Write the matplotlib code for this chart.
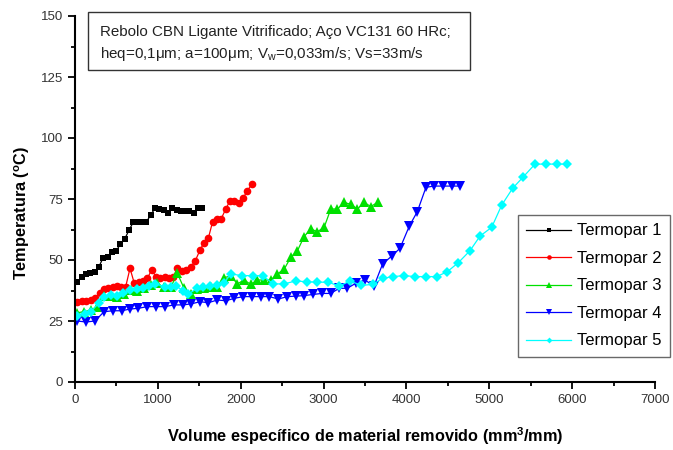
import matplotlib
matplotlib.use("Agg")
import matplotlib.pyplot as plt
from matplotlib.patches import Rectangle
from matplotlib.ticker import MultipleLocator

plt.rcParams['font.family'] = ['Liberation Sans', 'DejaVu Sans']
plt.rcParams['mathtext.fontset'] = 'custom'
plt.rcParams['mathtext.rm'] = 'Liberation Sans'
plt.rcParams['mathtext.it'] = 'Liberation Sans:italic'
plt.rcParams['mathtext.bf'] = 'Liberation Sans:bold'

labels = ["Termopar 1", "Termopar 2", "Termopar 3", "Termopar 4", "Termopar 5"]

t1_x = [28, 80, 132, 185, 237, 289, 341, 393, 445, 497, 549, 601, 653, 705, 757, 809, 861,
        913, 965, 1017, 1069, 1121, 1173, 1225, 1277, 1329, 1381, 1433, 1485, 1537]
t1_y = [41.1, 42.9, 44.3, 44.5, 45.0, 47.3, 51.0, 51.4, 53.3, 53.7, 56.6, 58.7, 62.3, 65.6,
        65.6, 65.6, 65.6, 68.4, 71.2, 70.7, 70.5, 69.4, 71.2, 70.5, 70.2, 70.2, 70.2, 69.4,
        71.2, 71.5]

t2_x = [20, 80, 133, 189, 245, 298, 350, 402, 455, 503, 559, 612, 664, 716, 768, 821, 873,
        925, 978, 1026, 1082, 1134, 1187, 1235, 1291, 1344, 1396, 1452, 1509, 1557, 1609,
        1661, 1714, 1766, 1818, 1871, 1923, 1975, 2028, 2080, 2136]
t2_y = [32.9, 33.3, 33.3, 33.6, 34.3, 36.3, 38.0, 38.4, 38.8, 39.5, 39.1, 39.1, 46.6, 40.4,
        40.8, 41.4, 42.5, 45.9, 43.2, 42.5, 43.2, 42.8, 43.2, 46.6, 45.6, 45.9, 47.0, 49.7,
        54.1, 57.1, 58.9, 65.7, 66.6, 67.0, 70.8, 74.3, 74.3, 73.2, 75.3, 78.4, 81.1]

t3_x = [28, 108, 189, 270, 350, 431, 511, 592, 672, 753, 833, 914, 994, 1075, 1155, 1236,
        1316, 1397, 1477, 1558, 1638, 1719, 1799, 1880, 1960, 2041, 2121, 2202, 2282, 2363,
        2443, 2524, 2604, 2685, 2765, 2846, 2926, 3007, 3087, 3168, 3248, 3329, 3409, 3490,
        3570, 3651]
t3_y = [28.4, 28.8, 29.5, 30.9, 35.2, 35.2, 35.0, 36.1, 37.7, 37.4, 38.4, 39.8, 40.4, 38.8,
        38.8, 44.5, 38.4, 36.1, 38.0, 38.4, 38.8, 38.8, 42.8, 43.4, 40.2, 41.8, 40.0, 41.8,
        41.8, 41.8, 44.3, 46.2, 51.1, 53.8, 59.6, 62.7, 61.6, 63.4, 70.9, 70.9, 73.6, 72.8,
        70.9, 73.6, 71.9, 73.6]

t4_x = [25, 133, 241, 350, 455, 563, 664, 764, 873, 978, 1086, 1195, 1300, 1400, 1509, 1609,
        1718, 1822, 1923, 2032, 2132, 2241, 2345, 2454, 2563, 2667, 2764, 2876, 2981, 3085,
        3190, 3286, 3391, 3500, 3608, 3713, 3822, 3922, 4035, 4131, 4236, 4333, 4445, 4546,
        4646]
t4_y = [25.0, 24.6, 25.0, 28.8, 29.2, 29.2, 29.9, 30.2, 30.9, 30.9, 30.9, 31.6, 31.6, 32.0,
        32.9, 32.5, 33.6, 33.3, 34.3, 35.0, 35.0, 35.0, 35.0, 34.0, 35.0, 35.2, 35.4, 35.9,
        36.3, 36.3, 38.4, 38.4, 40.5, 41.8, 39.3, 48.4, 51.6, 54.8, 63.9, 69.8, 79.8, 80.3,
        80.3, 80.3, 80.3]

t5_x = [20, 121, 189, 294, 350, 431, 511, 583, 664, 744, 817, 897, 966, 1086, 1155, 1219,
        1307, 1368, 1476, 1549, 1629, 1710, 1798, 1879, 2012, 2144, 2265, 2393, 2522, 2663,
        2796, 2924, 3057, 3190, 3319, 3456, 3593, 3713, 3842, 3971, 4104, 4236, 4365, 4493,
        4626, 4767, 4888, 5029, 5150, 5282, 5411, 5552, 5685, 5814, 5942]
t5_y = [27.0, 27.9, 28.8, 32.5, 35.0, 35.7, 35.2, 36.3, 37.7, 38.0, 38.4, 39.3, 40.2, 39.1,
        38.8, 39.3, 37.4, 36.1, 38.4, 38.8, 39.3, 39.8, 40.4, 44.3, 43.6, 43.6, 43.6, 40.2,
        40.2, 41.4, 41.1, 40.9, 40.9, 39.3, 41.4, 39.6, 40.0, 42.5, 43.2, 43.6, 43.2, 43.2,
        43.2, 45.2, 48.9, 53.8, 59.8, 63.4, 72.5, 79.4, 84.1, 89.3, 89.3, 89.3, 89.3]

series = [(t1_x, t1_y), (t2_x, t2_y), (t3_x, t3_y), (t4_x, t4_y), (t5_x, t5_y)]
colors = ["#000000", "#FF0000", "#00E000", "#0000FF", "#00FFFF"]
markers = ["s", "o", "^", "v", "D"]
msizes = [5, 5.5, 6.5, 6.5, 5]

fig = plt.figure(figsize=(6.73, 4.5), dpi=100)
ax = fig.add_axes([75/673, 1-382/450, 580/673, 366/450])

for (x, y), c, m, ms, lab in zip(series, colors, markers, msizes, labels):
    ax.plot(x, y, color=c, marker=m, markersize=ms, linewidth=0.9,
            markeredgewidth=0, label=lab)

ax.set_xlim(0, 7000)
ax.set_ylim(0, 150)
ax.xaxis.set_major_locator(MultipleLocator(1000))
ax.xaxis.set_minor_locator(MultipleLocator(500))
ax.yaxis.set_major_locator(MultipleLocator(25))
ax.yaxis.set_minor_locator(MultipleLocator(12.5))
for s in ['top', 'right']:
    ax.spines[s].set_visible(False)
for s in ['left', 'bottom']:
    ax.spines[s].set_linewidth(1.5)
ax.tick_params(which='major', direction='out', length=5, width=1.3,
               labelsize=9.5, labelcolor='#333333')
ax.tick_params(which='minor', direction='out', length=3, width=1.3)

ax.set_xlabel("Volume específico de material removido (mm$^\\mathbf{3}$/mm)", fontsize=11.7,
              fontweight='bold', labelpad=14)
ax.set_ylabel("Temperatura ($^{\\mathbf{o}}$C)", fontsize=11.7, fontweight='bold')
ax.yaxis.set_label_coords((32 - 75) / 580, (382 - 213) / 366)

leg = ax.legend(loc='upper left', bbox_to_anchor=(518/673, 1-215/450),
                bbox_transform=fig.transFigure, borderaxespad=0, fontsize=12,
                frameon=True, fancybox=False, edgecolor='#444444', markerscale=0.6,
                handlelength=2.7, labelspacing=0.75, borderpad=0.5, handletextpad=0.35)
leg.get_frame().set_linewidth(1.0)

fig.patches.append(Rectangle((88/673, 1-70/450), 382/673, 58/450, transform=fig.transFigure,
                             fill=False, edgecolor='#333333', linewidth=1.0))
fig.text(100/673, 1-32/450, "Rebolo CBN Ligante Vitrificado; Aço VC131 60 HRc;",
         fontsize=10.9, va='center', ha='left', color='#222222')
fig.text(100/673, 1-54/450, "heq=0,1μm; a=100μm; V$_{\\mathrm{w}}$=0,033m/s; Vs=33m/s",
         fontsize=10.9, va='center', ha='left', color='#222222')

fig.savefig("out.png", dpi=100)
